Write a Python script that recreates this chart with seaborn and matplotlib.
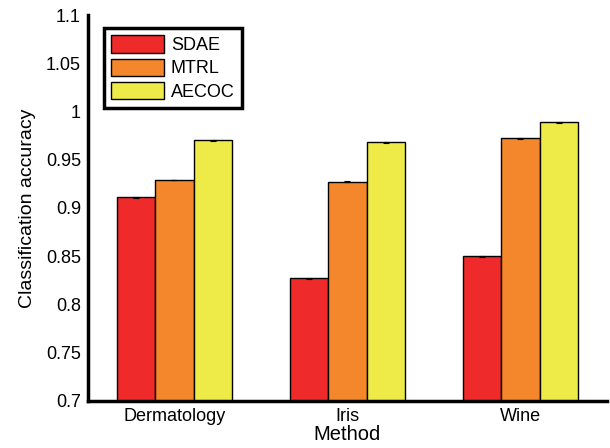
import pandas as pd
import numpy as np
import matplotlib
matplotlib.use('Agg')
import matplotlib.pyplot as plt
import seaborn as sns

# Data
datasets = ['Dermatology', 'Iris', 'Wine']
methods = ['SDAE', 'MTRL', 'AECOC']
sdae = [0.911, 0.827, 0.850]
mtrl = [0.929, 0.927, 0.9725]
aecoc = [0.970, 0.968, 0.989]
err = [0.0005, 0.0005, 0.0005]
colors = ['#EE2A2A', '#F4862B', '#EEEB48']

rows = []
for m, vals in zip(methods, [sdae, mtrl, aecoc]):
    for d, v in zip(datasets, vals):
        rows.append({'dataset': d, 'method': m, 'acc': v})
df = pd.DataFrame(rows)

sns.set_style('white')
plt.rcParams['font.family'] = ['Liberation Sans', 'DejaVu Sans']
plt.rcParams['text.color'] = 'black'
plt.rcParams['axes.labelcolor'] = 'black'
plt.rcParams['xtick.color'] = 'black'
plt.rcParams['ytick.color'] = 'black'

fig = plt.figure(figsize=(6.1, 4.48), dpi=100)
ax = fig.add_axes([0.144, 0.105, 0.851, 0.8615])

sns.barplot(data=df, x='dataset', y='acc', hue='method', palette=colors,
            width=0.665, errorbar=None, edgecolor='black', linewidth=1.0,
            saturation=1, ax=ax)

# tiny error bars on top of each bar
for i, p in enumerate(ax.patches[:9]):
    xc = p.get_x() + p.get_width() / 2
    ax.errorbar(xc, p.get_height(), yerr=err[i % 3], color='black',
                capsize=2.5, elinewidth=0.8, capthick=0.8)

ax.set_ylim(0.7, 1.1)
ax.set_xlim(-0.5, 2.5)
yt = np.arange(0.7, 1.1001, 0.05)
ax.set_yticks(yt)
ax.set_yticklabels([f'{v:g}' for v in np.round(yt, 2)])
ax.tick_params(axis='both', labelsize=13, length=0, pad=5)
ax.set_xlabel('Method', fontsize=14.5, labelpad=0)
ax.set_ylabel('Classification accuracy', fontsize=14, labelpad=7)

for s in ['top', 'right']:
    ax.spines[s].set_visible(False)
for s in ['left', 'bottom']:
    ax.spines[s].set_color('black')
    ax.spines[s].set_linewidth(2.5)

leg = ax.legend(loc='upper left', bbox_to_anchor=(0.031, 0.966),
                borderaxespad=0, fontsize=13, frameon=True, fancybox=False,
                handlelength=2.9, handleheight=1.1, handletextpad=0.4,
                labelspacing=0.25, borderpad=0.4)
leg.get_frame().set_edgecolor('black')
leg.get_frame().set_linewidth(2.5)
leg.get_frame().set_alpha(1)
leg.set_title(None)

fig.savefig('out.png', dpi=100)
